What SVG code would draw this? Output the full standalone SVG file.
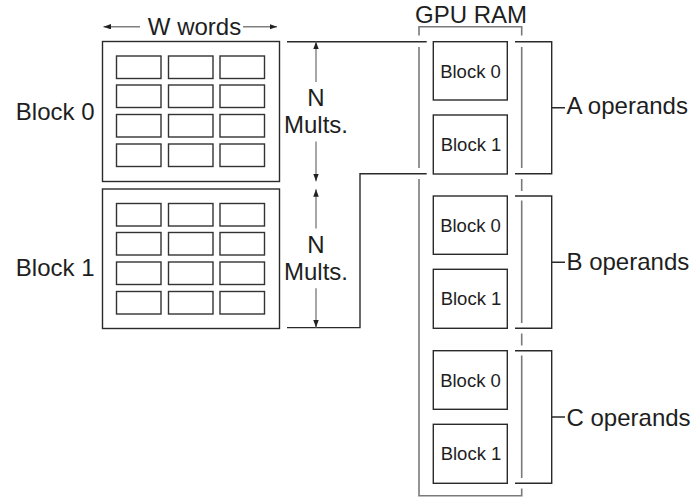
<svg xmlns="http://www.w3.org/2000/svg" xmlns:xlink="http://www.w3.org/1999/xlink" width="696" height="504" viewBox="0 0 696 504">
  <style>
    text { font-family: "Liberation Sans", Arial, sans-serif; fill: #1e1e1e; }
    .big { font-size: 24px; }
    .small { font-size: 18.5px; text-anchor: middle; }
    .mid { text-anchor: middle; }
    .box { fill: #fff; stroke: #2a2a2a; stroke-width: 1.4; }
    .cell { fill: #fff; stroke: #333; stroke-width: 1.4; }
    .wire { fill: none; stroke: #2a2a2a; stroke-width: 1.4; }
    .ram { fill: none; stroke: #7a7a7a; stroke-width: 1.6; }
    .gap { stroke: #fff; stroke-width: 4; }
    .dim { stroke: #808080; stroke-width: 1.4; fill: none; marker-end: url(#tip); }
  </style>
  <defs>
    <marker id="tip" markerUnits="userSpaceOnUse" markerWidth="8" markerHeight="6" refX="7.5" refY="2.75" orient="auto">
      <path d="M0,0 L7.5,2.75 L0,5.5 z" fill="#222"/>
    </marker>
    <!-- 3 x 4 grid of word cells inside a multiplication block -->
    <g id="cells">
      <rect class="cell" x="14" y="14.5" width="44.5" height="22.5"/>
      <rect class="cell" x="66" y="14.5" width="44.5" height="22.5"/>
      <rect class="cell" x="117.5" y="14.5" width="44.5" height="22.5"/>
      <rect class="cell" x="14" y="43.5" width="44.5" height="22.5"/>
      <rect class="cell" x="66" y="43.5" width="44.5" height="22.5"/>
      <rect class="cell" x="117.5" y="43.5" width="44.5" height="22.5"/>
      <rect class="cell" x="14" y="73" width="44.5" height="22.5"/>
      <rect class="cell" x="66" y="73" width="44.5" height="22.5"/>
      <rect class="cell" x="117.5" y="73" width="44.5" height="22.5"/>
      <rect class="cell" x="14" y="102.5" width="44.5" height="22.5"/>
      <rect class="cell" x="66" y="102.5" width="44.5" height="22.5"/>
      <rect class="cell" x="117.5" y="102.5" width="44.5" height="22.5"/>
    </g>
  </defs>

  <rect width="696" height="504" fill="#fff"/>

  <!-- GPU RAM bracket -->
  <g id="gpu-ram">
    <path class="ram" d="M419,495.7 V26.7 H521.7 V495.7 Z"/>
    <!-- breaks where horizontal lines cross the RAM bracket -->
    <line class="gap" x1="419" y1="35.5" x2="419" y2="47"/>
    <line class="gap" x1="419" y1="168" x2="419" y2="179"/>
    <line class="gap" x1="521.7" y1="35.5" x2="521.7" y2="47"/>
    <line class="gap" x1="521.7" y1="168" x2="521.7" y2="179"/>
    <line class="gap" x1="521.7" y1="191" x2="521.7" y2="200.5"/>
    <line class="gap" x1="521.7" y1="323" x2="521.7" y2="333.5"/>
    <line class="gap" x1="521.7" y1="345.5" x2="521.7" y2="355.5"/>
    <line class="gap" x1="521.7" y1="478" x2="521.7" y2="488.5"/>
    <text class="big mid" x="471" y="22.7">GPU RAM</text>
  </g>

  <!-- connectors -->
  <g id="connectors">
    <line class="wire" x1="287" y1="41.7" x2="426.7" y2="41.7"/>
    <polyline class="wire" points="287,327.6 360,327.6 360,173.7 426.7,173.7"/>
    <!-- W words dimension -->
    <line class="dim" x1="140" y1="26.7" x2="103.5" y2="26.7"/>
    <line class="dim" x1="243" y1="26.7" x2="277" y2="26.7"/>
    <!-- N Mults. dimensions -->
    <line class="dim" x1="316" y1="82" x2="316" y2="41.7"/>
    <line class="dim" x1="316" y1="141.5" x2="316" y2="181.3"/>
    <line class="dim" x1="316" y1="228.5" x2="316" y2="189.2"/>
    <line class="dim" x1="316" y1="288.3" x2="316" y2="327.4"/>
    <!-- operand brackets -->
    <path class="wire" d="M515,41.7 H551.7 V173.7 H515 M551.7,107.7 H565"/>
    <path class="wire" d="M515,196 H551.7 V328.3 H515 M551.7,262.2 H565"/>
    <path class="wire" d="M515,350.7 H551.7 V483.3 H515 M551.7,417 H565"/>
  </g>

  <g id="labels">
    <text class="big mid" x="194.5" y="34.5">W words</text>
    <text class="big mid" x="316" y="106">N</text>
    <text class="big mid" x="316" y="133.3">Mults.</text>
    <text class="big mid" x="316" y="253.3">N</text>
    <text class="big mid" x="316" y="280">Mults.</text>
    <text class="big" x="566.5" y="114">A operands</text>
    <text class="big" x="566.5" y="270">B operands</text>
    <text class="big" x="566.5" y="426">C operands</text>
  </g>

  <!-- multiplication blocks -->
  <g id="mult-block-0">
    <text class="big" x="94.5" y="120" text-anchor="end">Block 0</text>
    <rect class="box" x="102.5" y="41.5" width="177" height="140"/>
    <use xlink:href="#cells" href="#cells" transform="translate(102.5,41.5)"/>
  </g>
  <g id="mult-block-1">
    <text class="big" x="94.5" y="276" text-anchor="end">Block 1</text>
    <rect class="box" x="102.5" y="189" width="177" height="139.5"/>
    <use xlink:href="#cells" href="#cells" transform="translate(102.5,189)"/>
  </g>

  <!-- GPU RAM blocks -->
  <g id="a-block-0">
    <rect class="box" x="433.3" y="41.7" width="74" height="58.3"/>
    <text class="small" x="470.5" y="77.5">Block 0</text>
  </g>
  <g id="a-block-1">
    <rect class="box" x="433.3" y="115" width="74" height="59"/>
    <text class="small" x="471" y="151">Block 1</text>
  </g>
  <g id="b-block-0">
    <rect class="box" x="433.3" y="196" width="74" height="58.3"/>
    <text class="small" x="470.5" y="231.8">Block 0</text>
  </g>
  <g id="b-block-1">
    <rect class="box" x="433.3" y="269.3" width="74" height="59"/>
    <text class="small" x="471" y="305.3">Block 1</text>
  </g>
  <g id="c-block-0">
    <rect class="box" x="433.3" y="350.7" width="74" height="58.6"/>
    <text class="small" x="470.5" y="386.6">Block 0</text>
  </g>
  <g id="c-block-1">
    <rect class="box" x="433.3" y="424.3" width="74" height="59"/>
    <text class="small" x="471" y="460.3">Block 1</text>
  </g>
</svg>
